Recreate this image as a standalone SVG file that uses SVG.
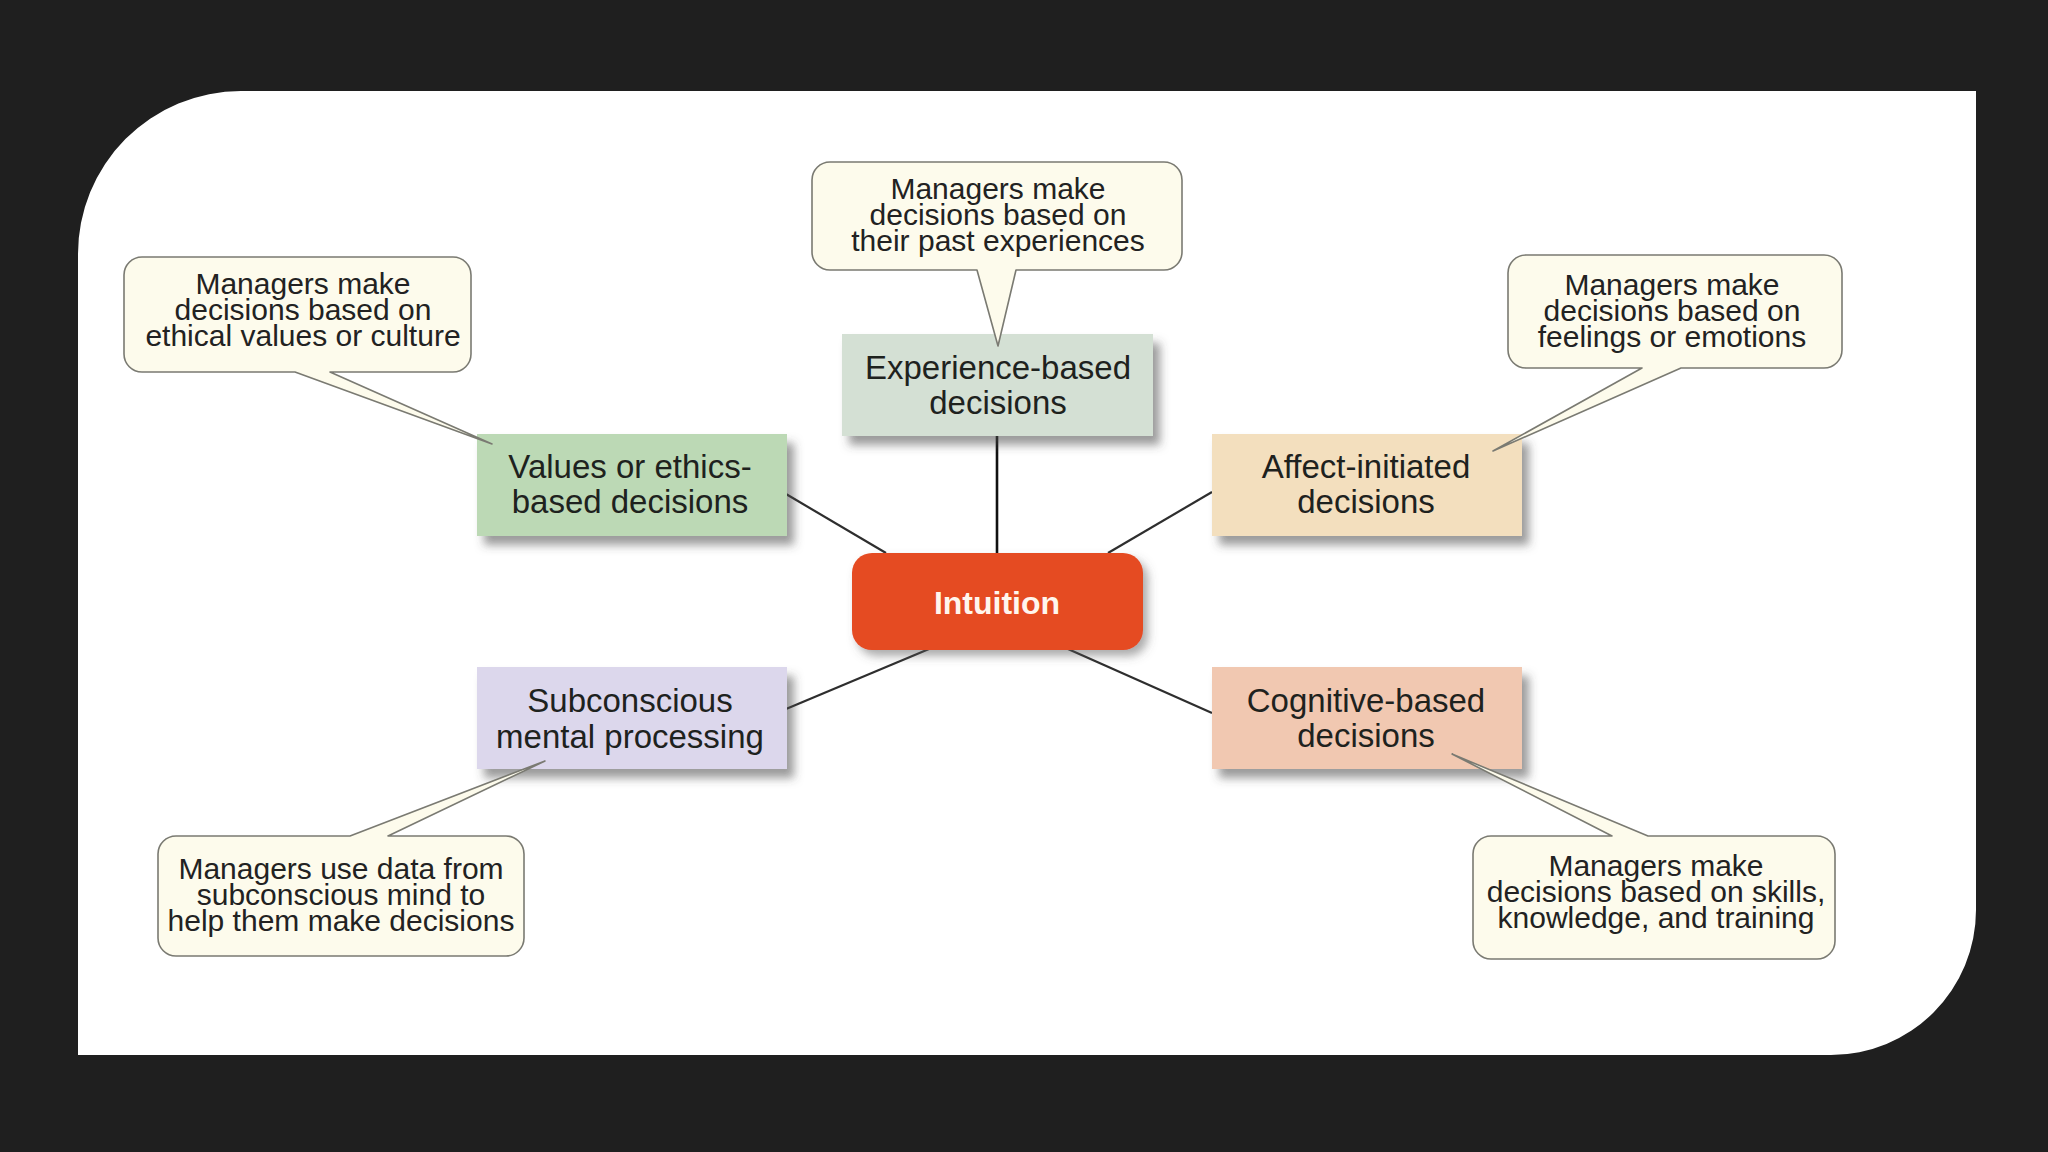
<svg xmlns="http://www.w3.org/2000/svg" width="2048" height="1152" viewBox="0 0 2048 1152">
<defs>
<filter id="sh" x="-20%" y="-20%" width="150%" height="160%">
<feDropShadow dx="7" dy="9" stdDeviation="5" flood-color="#4a4a4a" flood-opacity="0.55"/>
</filter>
<filter id="sh2" x="-20%" y="-20%" width="150%" height="160%">
<feDropShadow dx="5" dy="6" stdDeviation="5" flood-color="#555" flood-opacity="0.5"/>
</filter>
<style>
.node{filter:url(#sh)}
.nt{font-family:"Liberation Sans",Arial,sans-serif;font-size:33px;fill:#1e221e;text-anchor:middle}
.ct{font-family:"Liberation Sans",Arial,sans-serif;font-size:30px;fill:#222;text-anchor:middle}
.co{fill:#fdfbec;stroke:#7a7a72;stroke-width:1.6;stroke-linejoin:round}
.ln{stroke:#2e2e2e;stroke-width:2.2;fill:none}
</style>
</defs>
<rect width="2048" height="1152" fill="#1f1f1f"/>
<path d="M78,255 A163 163 0 0 1 241,91 H1976 V910 A145 145 0 0 1 1831,1055 H78 Z" fill="#ffffff"/>

<g id="connectors">
<line class="ln" x1="997" y1="436" x2="997" y2="553" style="stroke-width:2.6;stroke:#111"/>
<line class="ln" x1="786" y1="494" x2="886" y2="553"/>
<line class="ln" x1="1212" y1="492" x2="1108" y2="553"/>
<line class="ln" x1="786" y1="709" x2="929" y2="649"/>
<line class="ln" x1="1212" y1="713" x2="1068" y2="649"/>
</g>

<g id="node-experience">
<rect class="node" x="842" y="334" width="311" height="102" fill="#d4e0d4"/>
<text class="nt" x="998" y="379">Experience-based</text>
<text class="nt" x="998" y="414">decisions</text>
</g>
<g id="node-values">
<rect class="node" x="477" y="434" width="310" height="102" fill="#bcd9b5"/>
<text class="nt" x="630" y="478">Values or ethics-</text>
<text class="nt" x="630" y="513">based decisions</text>
</g>
<g id="node-affect">
<rect class="node" x="1212" y="434" width="310" height="102" fill="#f3dfbe"/>
<text class="nt" x="1366" y="478">Affect-initiated</text>
<text class="nt" x="1366" y="513">decisions</text>
</g>
<g id="node-subconscious">
<rect class="node" x="477" y="667" width="310" height="102" fill="#dcd7ec"/>
<text class="nt" x="630" y="712">Subconscious</text>
<text class="nt" x="630" y="748">mental processing</text>
</g>
<g id="node-cognitive">
<rect class="node" x="1212" y="667" width="310" height="102" fill="#f1c8b1"/>
<text class="nt" x="1366" y="712">Cognitive-based</text>
<text class="nt" x="1366" y="747">decisions</text>
</g>
<g id="node-intuition">
<rect x="852" y="553" width="291" height="97" rx="20" fill="#e54b22" filter="url(#sh2)"/>
<text x="997" y="614" style="font-family:'Liberation Sans',Arial,sans-serif;font-size:32px;font-weight:bold;fill:#fff6ee;text-anchor:middle">Intuition</text>
</g>

<g id="callout-experience">
<path class="co" d="M830,162 H1164 A18 18 0 0 1 1182,180 V252 A18 18 0 0 1 1164,270 H1016 L998,346 L977,270 H830 A18 18 0 0 1 812,252 V180 A18 18 0 0 1 830,162 Z"/>
<text class="ct" x="998" y="199">Managers make</text>
<text class="ct" x="998" y="225">decisions based on</text>
<text class="ct" x="998" y="251">their past experiences</text>
</g>
<g id="callout-values">
<path class="co" d="M142,257 H453 A18 18 0 0 1 471,275 V354 A18 18 0 0 1 453,372 H330 L492,444 L295,372 H142 A18 18 0 0 1 124,354 V275 A18 18 0 0 1 142,257 Z"/>
<text class="ct" x="303" y="294">Managers make</text>
<text class="ct" x="303" y="320">decisions based  on</text>
<text class="ct" x="303" y="346">ethical values or culture</text>
</g>
<g id="callout-affect">
<path class="co" d="M1526,255 H1824 A18 18 0 0 1 1842,273 V350 A18 18 0 0 1 1824,368 H1681 L1493,451 L1642,368 H1526 A18 18 0 0 1 1508,350 V273 A18 18 0 0 1 1526,255 Z"/>
<text class="ct" x="1672" y="295">Managers make</text>
<text class="ct" x="1672" y="321">decisions based on</text>
<text class="ct" x="1672" y="347">feelings or emotions</text>
</g>
<g id="callout-subconscious">
<path class="co" d="M176,836 H350 L545,761 L388,836 H506 A18 18 0 0 1 524,854 V938 A18 18 0 0 1 506,956 H176 A18 18 0 0 1 158,938 V854 A18 18 0 0 1 176,836 Z"/>
<text class="ct" x="341" y="879">Managers use data from</text>
<text class="ct" x="341" y="905">subconscious mind to</text>
<text class="ct" x="341" y="931">help them make decisions</text>
</g>
<g id="callout-cognitive">
<path class="co" d="M1491,836 H1612 L1452,754 L1648,836 H1817 A18 18 0 0 1 1835,854 V941 A18 18 0 0 1 1817,959 H1491 A18 18 0 0 1 1473,941 V854 A18 18 0 0 1 1491,836 Z"/>
<text class="ct" x="1656" y="876">Managers make</text>
<text class="ct" x="1656" y="902">decisions based on skills,</text>
<text class="ct" x="1656" y="928">knowledge, and training</text>
</g>
</svg>
